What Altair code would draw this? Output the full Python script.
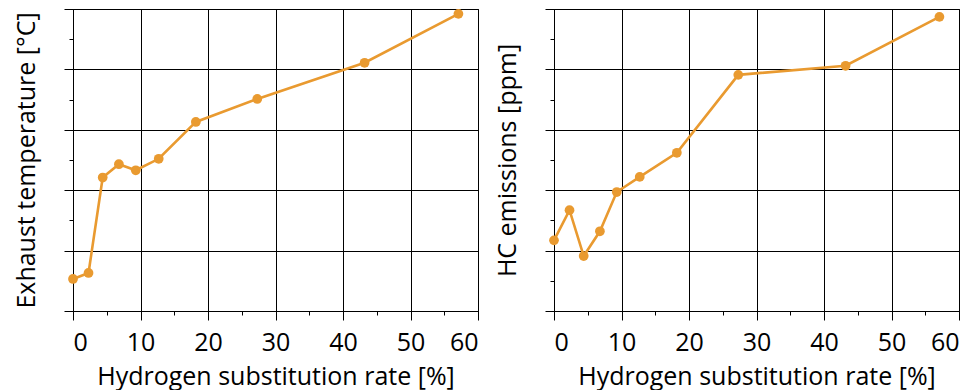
import altair as alt
import pandas as pd

h2_rate = [0, 2.3, 4.4, 6.8, 9.3, 12.7, 18.2, 27.3, 43.2, 57.1]
exhaust_temp = [0.53, 0.63, 2.21, 2.43, 2.33, 2.52, 3.13, 3.51, 4.11, 4.92]
hc_emissions = [1.17, 1.67, 0.91, 1.32, 1.97, 2.22, 2.62, 3.91, 4.06, 4.87]

x_major = [0, 10, 20, 30, 40, 50, 60]
x_minor = [5, 15, 25, 35, 45, 55]
y_ticks = [0, 0.5, 1, 1.5, 2, 2.5, 3, 3.5, 4, 4.5, 5]

COLOR = "#E99A30"
FONT = "Open Sans"

df = pd.DataFrame({"x": h2_rate, "t": exhaust_temp, "hc": hc_emissions})


def panel(field, title):
    x_axis = alt.Axis(
        values=x_major,
        title="Hydrogen substitution rate [%]",
        tickSize=9,
        labelPadding=10,
        titlePadding=9,
    )
    x_minor_axis = alt.Axis(
        values=x_minor,
        orient="bottom",
        title=None,
        labels=False,
        grid=False,
        domain=False,
        tickSize=4,
    )
    y_axis = alt.Axis(
        values=y_ticks,
        labels=False,
        title=title,
        tickSize={"condition": {"test": "datum.value % 1 === 0", "value": 9}, "value": 4},
        gridOpacity={"condition": {"test": "datum.value % 1 === 0", "value": 1}, "value": 0},
        titlePadding=24,
    )
    yscale = alt.Scale(domain=[0, 5], nice=False)
    xscale = alt.Scale(domain=[0, 60], nice=False)
    line = alt.Chart(df).mark_line(color=COLOR, strokeWidth=2.6).encode(
        x=alt.X("x:Q", scale=xscale, axis=x_axis),
        y=alt.Y(f"{field}:Q", scale=yscale, axis=y_axis),
    )
    pts = alt.Chart(df).mark_circle(color=COLOR, size=95, opacity=1).encode(
        x=alt.X("x:Q", scale=xscale, axis=x_minor_axis),
        y=alt.Y(f"{field}:Q", scale=yscale, axis=y_axis),
    )
    return (
        alt.layer(line, pts)
        .resolve_axis(x="independent")
        .properties(width=405, height=302)
    )


chart = alt.hconcat(
    panel("t", "Exhaust temperature [°C]"),
    panel("hc", "HC emissions [ppm]"),
    spacing=15,
).properties(
    padding={"top": 0, "left": 5, "right": 5, "bottom": 0},
).configure_view(
    stroke="black", strokeWidth=1
).configure_axis(
    domainColor="black",
    tickColor="black",
    gridColor="black",
    gridWidth=1,
    tickWidth=1,
    labelFont=FONT,
    titleFont=FONT,
    labelFontSize=25,
    titleFontSize=25,
    labelColor="black",
    titleColor="black",
    titleFontWeight="normal",
)

chart.save("out.html", embed_options={"renderer": "svg", "actions": False})
